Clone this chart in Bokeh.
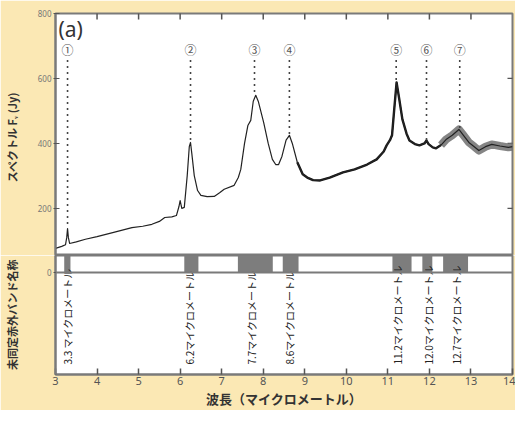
import math
from bokeh.plotting import figure
from bokeh.layouts import column
from bokeh.models import Range1d, FixedTicker, Label, Span, ColumnDataSource
from bokeh.core.properties import value
from bokeh.embed import file_html
from bokeh.resources import INLINE

# ---------------- data ----------------
wavelength = [3.00, 3.15, 3.24, 3.27, 3.29, 3.31, 3.34, 3.50, 3.72, 4.00, 4.40,
              4.84, 5.10, 5.32, 5.50, 5.63, 5.80, 5.91, 5.97, 6.00, 6.04, 6.10,
              6.17, 6.22, 6.25, 6.28, 6.34, 6.42, 6.50, 6.65, 6.82, 6.95, 7.06,
              7.30, 7.40, 7.46, 7.55, 7.63, 7.70, 7.76, 7.82, 7.88, 8.01, 8.12,
              8.22, 8.30, 8.37, 8.45, 8.55, 8.63, 8.70, 8.82, 8.95, 9.06, 9.20,
              9.37, 9.60, 9.92, 10.20, 10.50, 10.73, 10.90, 10.97, 11.05, 11.10,
              11.15, 11.21, 11.27, 11.35, 11.45, 11.52, 11.65, 11.76, 11.88,
              11.93, 11.98, 12.08, 12.16, 12.28, 12.40, 12.55, 12.71, 12.82,
              12.95, 13.08, 13.19, 13.35, 13.50, 13.70, 13.90, 14.00]
flux_jy = [77, 83, 88, 110, 138, 110, 92, 97, 105, 113, 126,
           141, 145, 151, 160, 172, 174, 178, 205, 224, 200, 203,
           300, 390, 403, 370, 301, 255, 240, 236, 237, 248, 259,
           271, 295, 320, 400, 455, 471, 530, 548, 530, 465, 400,
           351, 335, 335, 360, 410, 425, 400, 342, 305, 295, 287,
           286, 295, 311, 320, 335, 351, 375, 394, 410, 425,
           500, 588, 540, 474, 430, 409, 398, 394, 400,
           409, 398, 388, 385, 395, 412, 425, 443, 425,
           403, 390, 378, 390, 397, 392, 388, 390]

# identified feature markers (circled numbers)
feature_marks = ["①", "②", "③", "④", "⑤", "⑥", "⑦"]
feature_wl = [3.29, 6.25, 7.79, 8.63, 11.20, 11.93, 12.73]
feature_peak = [140, 403, 548, 425, 588, 409, 443]
mark_level = 689
dot_top = 657

# unidentified infrared bands (strip)
band_start = [3.21, 6.10, 7.39, 8.47, 11.11, 11.83, 12.33]
band_end = [3.36, 6.44, 8.23, 8.85, 11.57, 12.07, 12.93]
band_names = ["3.3 マイクロメートル", "6.2マイクロメートル", "7.7マイクロメートル",
              "8.6マイクロメートル", "11.2マイクロメートル", "12.0マイクロメートル",
              "12.7マイクロメートル"]
band_label_wl = [3.30, 6.22, 7.72, 8.64, 11.22, 11.97, 12.66]
strip_bottom = 0
strip_top = 55
label_base = -298

x_ticks = list(range(3, 15))
y_ticks_upper = [200, 400, 600, 800]
y_ticks_lower = [0]

JP = "Noto Sans CJK JP"
BG = "#FBE8B4"
FRAME = "#7a7a7a"
TICK = "#555555"


def style_frame(fig):
    fig.background_fill_color = "white"
    fig.border_fill_color = BG
    fig.outline_line_color = FRAME
    fig.outline_line_width = 2
    fig.grid.visible = False


def style_left_axis(ax, ticks, label, standoff):
    ax.ticker = FixedTicker(ticks=ticks)
    ax.axis_label = label
    ax.axis_label_text_font = JP
    ax.axis_label_text_font_style = "bold"
    ax.axis_label_text_font_size = "11px"
    ax.axis_label_text_color = "#333333"
    ax.axis_label_standoff = standoff
    ax.major_label_text_font = "Noto Sans"
    ax.major_label_text_font_size = "8px"
    ax.major_label_text_color = "#777777"
    ax.major_label_standoff = 2
    ax.major_tick_in = 4
    ax.major_tick_out = 2
    ax.minor_tick_line_color = None
    ax.axis_line_color = FRAME
    ax.axis_line_width = 2
    ax.major_tick_line_color = TICK


# ---------------- upper panel: spectrum ----------------
p1 = figure(width=515, height=255, output_backend="svg", toolbar_location=None,
            x_range=Range1d(3, 14), y_range=Range1d(strip_top, 800),
            x_axis_location=None,
            min_border_left=54, min_border_right=3, min_border_top=13,
            min_border_bottom=0)
style_frame(p1)
style_left_axis(p1.yaxis[0], y_ticks_upper, "スペクトル  F\u1d65  (Jy)", 15)

# inward ticks on the top and right edges (clipped half of a dash marker)
p1.scatter(x=x_ticks[1:-1], y=[800] * len(x_ticks[1:-1]), marker="dash",
           angle=math.pi / 2, size=12, line_color=TICK, line_width=1.5)
p1.scatter(x=[14] * 3, y=y_ticks_upper[:3], marker="dash", size=10,
           line_color=TICK, line_width=1.2)

src = ColumnDataSource(dict(x=wavelength, y=flux_jy))
i_mid0 = wavelength.index(8.82)
i_noisy = wavelength.index(12.28)
p1.line(wavelength[i_noisy:], flux_jy[i_noisy:], line_color="#707070",
        line_width=8, line_alpha=0.85, line_join="round")
p1.line(wavelength[i_mid0:i_noisy + 1], flux_jy[i_mid0:i_noisy + 1],
        line_color="#1a1a1a", line_width=2.4, line_join="round")
p1.line("x", "y", source=src, line_color="#222222", line_width=1.2,
        line_join="round")

p1.segment(x0=feature_wl, y0=[dot_top] * len(feature_wl), x1=feature_wl,
           y1=feature_peak, line_color="#444444", line_width=1.6,
           line_dash="2 4")
p1.text(x=feature_wl, y=[mark_level] * len(feature_wl), text=feature_marks,
        text_align="center", text_baseline="middle", text_font=value(JP),
        text_font_size="12px", text_color="#555555")

p1.add_layout(Label(x=3, y=800, x_offset=3, y_offset=-1, text="(a)",
                    text_baseline="top", text_align="left",
                    text_font="Noto Sans", text_font_size="21px",
                    text_color="#333333"))

# ---------------- lower panel: band strip & names ----------------
p2 = figure(width=515, height=155, output_backend="svg", toolbar_location=None,
            x_range=p1.x_range, y_range=Range1d(-330, strip_top),
            min_border_left=54, min_border_right=3, min_border_top=0,
            min_border_bottom=30)
style_frame(p2)
style_left_axis(p2.yaxis[0], y_ticks_lower, "未同定赤外バンド名称", 24)

xa = p2.xaxis[0]
xa.ticker = FixedTicker(ticks=x_ticks)
xa.axis_label = "波長（マイクロメートル）"
xa.axis_label_text_font = JP
xa.axis_label_text_font_style = "bold"
xa.axis_label_text_font_size = "13px"
xa.axis_label_text_color = "#333333"
xa.axis_label_standoff = 1
xa.major_label_text_font = "Noto Sans"
xa.major_label_text_font_size = "11px"
xa.major_label_text_color = "#555555"
xa.major_label_standoff = 2
xa.major_tick_in = 6
xa.major_tick_out = 0
xa.minor_tick_line_color = None
xa.axis_line_color = FRAME
xa.axis_line_width = 2
xa.major_tick_line_color = TICK
xa.major_tick_line_width = 1.5

p2.quad(left=band_start, right=band_end, bottom=strip_bottom, top=strip_top,
        fill_color="#7d7d7d", line_color=None)
p2.add_layout(Span(location=strip_bottom, dimension="width",
                   line_color=FRAME, line_width=2))

p2.text(x=band_label_wl, y=[label_base] * len(band_names), text=band_names,
        angle=math.pi / 2, text_align="left", text_baseline="middle",
        text_font=value(JP), text_font_size="10px", text_color="#222222")

layout = column(p1, p2, spacing=0)
open("out.html", "w").write(file_html(layout, INLINE))
